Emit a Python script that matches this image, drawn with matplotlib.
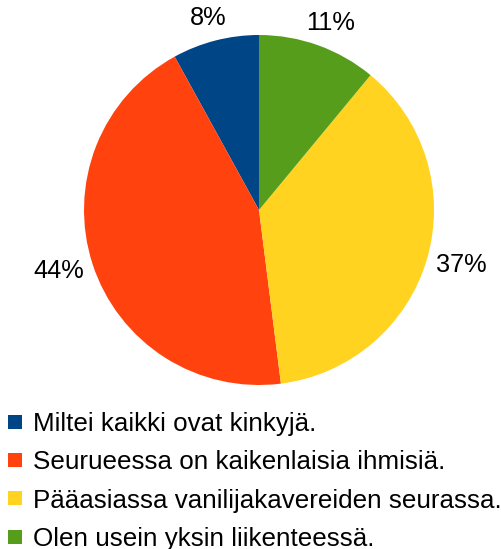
import numpy as np
import matplotlib.pyplot as plt
from matplotlib.lines import Line2D

plt.rcParams['font.family'] = ['Liberation Sans', 'DejaVu Sans']

# data
labels = ["Miltei kaikki ovat kinkyjä.",
          "Seurueessa on kaikenlaisia ihmisiä.",
          "Pääasiassa vanilijakavereiden seurassa.",
          "Olen usein yksin liikenteessä."]
shares = [8, 44, 37, 11]
colors = ["#004586", "#ff420e", "#ffd320", "#579d1c"]

W, H = 501, 549
fig = plt.figure(figsize=(W / 100, H / 100), dpi=100)

# pie centre (259, 210) px, radius 175 px
cx, cy, r = 259, 210, 175
ax = fig.add_axes([(cx - r) / W, (H - cy - r) / H, 2 * r / W, 2 * r / H])
wedges, _ = ax.pie(shares, colors=colors, startangle=90, counterclock=True,
                   wedgeprops=dict(linewidth=0))
ax.set_xlim(-1, 1)
ax.set_ylim(-1, 1)
ax.set_aspect('equal')

# percentage labels just outside the rim, box edge a fixed gap from the pie
fig.canvas.draw()
renderer = fig.canvas.get_renderer()
gap = 14.5 / r
for w, v in zip(wedges, shares):
    ang = np.deg2rad((w.theta1 + w.theta2) / 2)
    c, s = np.cos(ang), np.sin(ang)
    t = ax.text(0, 0, f"{v}%", fontsize=18.3, ha='center', va='center')
    bb = t.get_window_extent(renderer)
    hw, hh = bb.width / 2 / r * 0.85, bb.height / 2 / r * 0.75
    t.set_position(((1 + gap) * c + hw * c, (1 + gap) * s + hh * s))

handles = [Line2D([], [], linestyle='none', marker='s', markersize=10.5,
                  markerfacecolor=col, markeredgewidth=0) for col in colors]
fig.legend(handles, labels, loc='upper left',
           bbox_to_anchor=(7 / W, 1 - 412 / H), frameon=False,
           fontsize=18.7, handlelength=0.6, handletextpad=0.4,
           labelspacing=0.55, borderpad=0, borderaxespad=0)

fig.savefig("out.png", dpi=100)
